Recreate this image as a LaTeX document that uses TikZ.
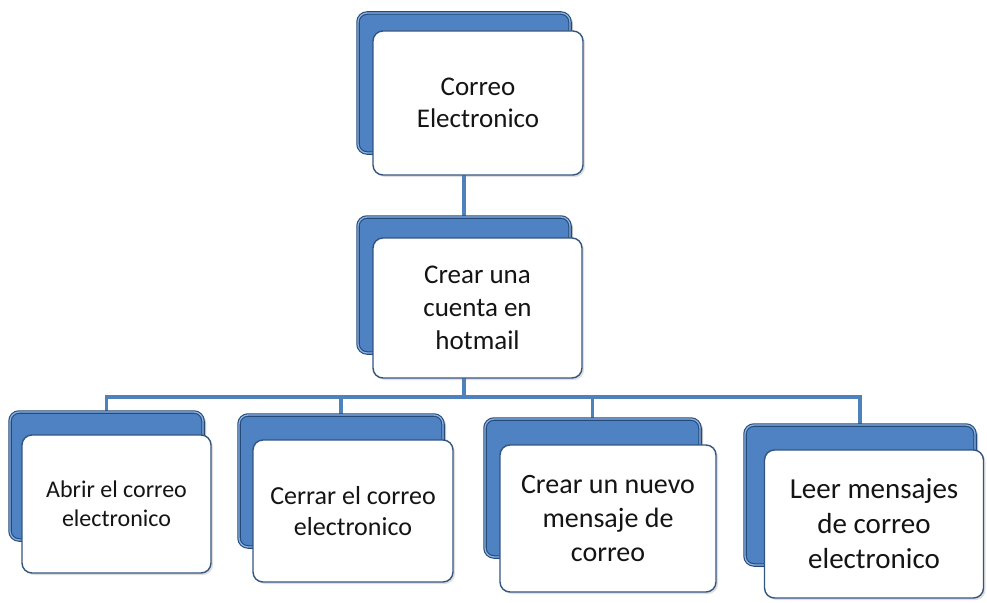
\documentclass[tikz,border=0pt]{standalone}
\usepackage{fontspec}
\setmainfont{Carlito}
\usepackage{xcolor}
\usepackage{tikz}
\usetikzlibrary{shadows, backgrounds}

\definecolor{linkblue}{HTML}{4F81BD}
\definecolor{backfill}{HTML}{4E82C3}
\definecolor{backlight}{HTML}{8CB3E4}
\definecolor{backedge}{HTML}{234A78}
\definecolor{frontedge}{HTML}{34557F}
\definecolor{inktext}{HTML}{141414}

\tikzset{
  backbox/.style={draw=backedge, line width=1.1pt, double=backlight,
    double distance=1.3pt, rounded corners=9pt, fill=backfill,
    drop shadow={opacity=0.5, shadow xshift=3pt, shadow yshift=-2pt}},
  frontbox/.style={draw=frontedge, line width=1.4pt, rounded corners=10pt,
    fill=white, text=inktext, align=center,
    drop shadow={opacity=0.25, shadow xshift=2pt, shadow yshift=-2pt}},
  link/.style={draw=linkblue, line width=3.2pt}
}

\begin{document}
\begin{tikzpicture}[x=1pt, y=-1pt]
    \useasboundingbox (0,0) rectangle (987,602);
    % root
    \node[backbox, minimum width=212pt, minimum height=140pt] (topB) at (464,83) {};
    \node[frontbox, minimum width=210pt, minimum height=144pt,
          font=\fontsize{27}{32}\selectfont] (top) at (478,103) {Correo\\Electronico};
    % second level
    \node[backbox, minimum width=212pt, minimum height=136pt] (midB) at (464,285) {};
    \node[frontbox, minimum width=209pt, minimum height=140pt,
          font=\fontsize{27}{33}\selectfont] (mid) at (477.5,308) {Crear una\\cuenta en\\hotmail};
    % leaves
    \node[backbox, minimum width=193pt, minimum height=128pt] (b1B) at (106.5,476) {};
    \node[frontbox, minimum width=189pt, minimum height=138pt,
          font=\fontsize{24}{29}\selectfont] (b1) at (116.5,504) {Abrir el correo\\electronico};
    \node[backbox, minimum width=204pt, minimum height=132pt] (b2B) at (341,481) {};
    \node[frontbox, minimum width=200pt, minimum height=142pt,
          font=\fontsize{26}{31}\selectfont] (b2) at (353,511) {Cerrar el correo\\electronico};
    \node[backbox, minimum width=215pt, minimum height=138pt] (b3B) at (592.5,488) {};
    \node[frontbox, minimum width=216pt, minimum height=147pt,
          font=\fontsize{28}{34}\selectfont] (b3) at (608,518.5) {Crear un nuevo\\mensaje de\\correo};
    \node[backbox, minimum width=230pt, minimum height=140pt] (b4B) at (860,495) {};
    \node[frontbox, minimum width=219pt, minimum height=148pt,
          font=\fontsize{29}{35}\selectfont] (b4) at (874,524) {Leer mensajes\\de correo\\electronico};
    % connectors
    \coordinate (bar) at (464,397);
    \begin{scope}[on background layer]
        \draw[link] (topB.south) -- (midB.north);
        \draw[link] (midB.south) -- (bar);
        \foreach \leaf in {b1B, b2B, b3B, b4B}
            \draw[link] (bar) -| (\leaf.north);
    \end{scope}
\end{tikzpicture}
\end{document}
